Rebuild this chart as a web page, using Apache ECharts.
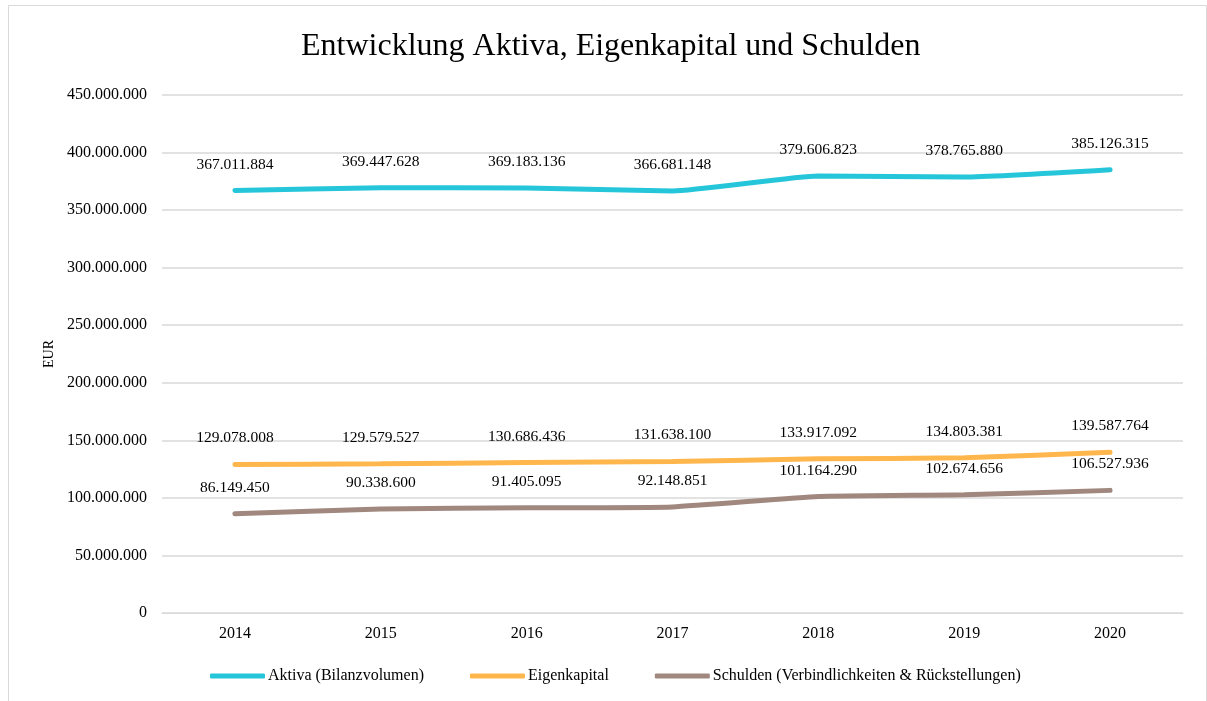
<!DOCTYPE html>
<html>
<head>
<meta charset="utf-8">
<script src="https://cdn.jsdelivr.net/npm/echarts@6/dist/echarts.min.js"></script>
<style>
  html, body { margin: 0; padding: 0; background: #fff; }
  #chart { width: 1207px; height: 701px; }
</style>
</head>
<body>
<div id="chart"></div>
<script>
const years = ['2014', '2015', '2016', '2017', '2018', '2019', '2020'];
const aktiva = [367011884, 369447628, 369183136, 366681148, 379606823, 378765880, 385126315];
const eigenkapital = [129078008, 129579527, 130686436, 131638100, 133917092, 134803381, 139587764];
const schulden = [86149450, 90338600, 91405095, 92148851, 101164290, 102674656, 106527936];

const serif = '"Liberation Serif", "DejaVu Serif", serif';

// 1234567 -> 1.234.567
function fmt(v) {
  return String(Math.round(v)).replace(/\B(?=(\d{3})+(?!\d))/g, '.');
}

function lineSeries(name, data, color) {
  return {
    name: name,
    type: 'line',
    data: data,
    smooth: 0.15,
    symbol: 'circle',
    symbolSize: 0.1,
    lineStyle: { width: 5, color: color, cap: 'round' },
    itemStyle: { color: color },
    label: {
      show: true,
      position: 'top',
      distance: 18,
      fontFamily: serif,
      fontSize: 15.5,
      color: '#000',
      formatter: p => fmt(p.value)
    }
  };
}

const chart = echarts.init(document.getElementById('chart'));
chart.setOption({
  backgroundColor: '#fff',
  animation: false,
  title: {
    text: 'Entwicklung Aktiva, Eigenkapital und Schulden',
    left: 296,
    top: 26,
    textStyle: { fontFamily: serif, fontSize: 32, fontWeight: 'normal', color: '#000' }
  },
  graphic: [{
    type: 'rect',
    shape: { x: 8.5, y: 5.5, width: 1198, height: 700 },
    style: { fill: 'none', stroke: '#d9d9d9', lineWidth: 1 }
  }],
  grid: { left: 162, right: 24, top: 95, bottom: 88 },
  legend: {
    bottom: 12,
    left: 205,
    itemWidth: 55,
    itemHeight: 5,
    itemGap: 46,
    icon: 'roundRect',
    textStyle: { fontFamily: serif, fontSize: 16, color: '#000', padding: [0, 0, 0, -2] },
    data: ['Aktiva (Bilanzvolumen)', 'Eigenkapital', 'Schulden (Verbindlichkeiten & Rückstellungen)']
  },
  xAxis: {
    type: 'category',
    data: years,
    boundaryGap: true,
    axisLine: { lineStyle: { color: '#d9d9d9' } },
    axisTick: { show: false },
    axisLabel: { fontFamily: serif, fontSize: 16, color: '#000', margin: 13 }
  },
  yAxis: {
    type: 'value',
    min: 0,
    max: 450000000,
    interval: 50000000,
    name: 'EUR',
    nameLocation: 'middle',
    nameGap: 103,
    nameTextStyle: { fontFamily: serif, fontSize: 14, color: '#000' },
    axisLine: { show: false },
    axisTick: { show: false },
    splitLine: { lineStyle: { color: '#d9d9d9', width: 1.5 } },
    axisLabel: { fontFamily: serif, fontSize: 16, color: '#000', margin: 15, formatter: v => fmt(v) }
  },
  series: [
    lineSeries('Aktiva (Bilanzvolumen)', aktiva, '#26C6DA'),
    lineSeries('Eigenkapital', eigenkapital, '#FFB74D'),
    lineSeries('Schulden (Verbindlichkeiten & Rückstellungen)', schulden, '#A1887F')
  ]
});
</script>
</body>
</html>
